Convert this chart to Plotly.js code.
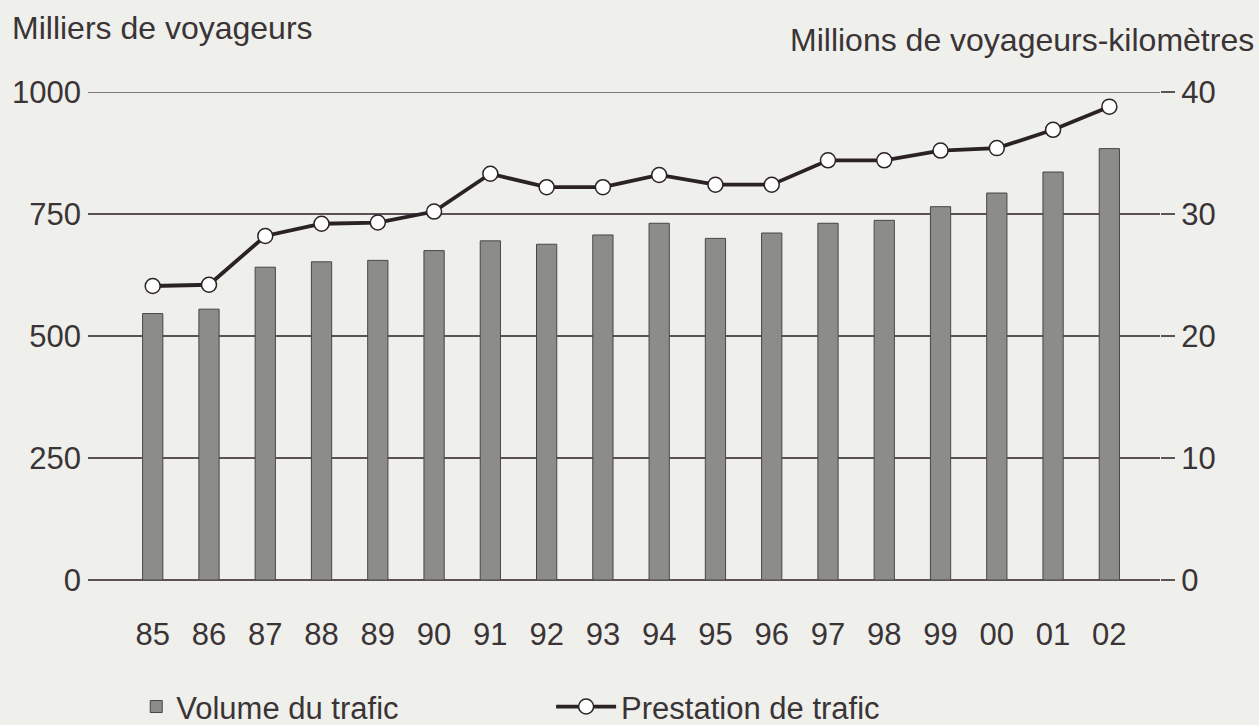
<!DOCTYPE html>
<html>
<head>
<meta charset="utf-8">
<script src="https://cdn.plot.ly/plotly-3.0.1.min.js"></script>
<style>
  html, body { margin: 0; padding: 0; background: #efefec; }
  #chart { width: 1259px; height: 725px; }
</style>
</head>
<body>
<div id="chart"></div>
<script>
// years (two-digit labels as in the source)
const years = ["85", "86", "87", "88", "89", "90", "91", "92", "93", "94",
               "95", "96", "97", "98", "99", "00", "01", "02"];

// Volume du trafic, milliers de voyageurs (left axis)
const volume = [546, 555, 641, 652, 655, 675, 695, 688, 707, 731,
                700, 711, 731, 737, 765, 793, 836, 884];

// Prestation de trafic, millions de voyageurs-km (right axis)
const prestation = [24.1, 24.2, 28.2, 29.2, 29.3, 30.2, 33.3, 32.2, 32.2, 33.2,
                    32.4, 32.4, 34.4, 34.4, 35.2, 35.4, 36.9, 38.8];

const leftTicks = [0, 250, 500, 750, 1000];
const rightTicks = [0, 10, 20, 30, 40];

const ink = "#3a3436";
const rule = "#5a5257";
const fontFam = "Liberation Sans, Arial, Helvetica, sans-serif";
const fs = 31;

const bars = {
    x: years,
    y: volume,
    type: "bar",
    name: "Volume du trafic",
    marker: { color: "#8c8c8a", line: { color: "#4a4646", width: 1 } },
    yaxis: "y",
    legend: "legend"
};

const line = {
    x: years,
    y: prestation,
    type: "scatter",
    mode: "lines+markers",
    name: "Prestation de trafic",
    line: { color: "#2a2224", width: 3.8 },
    marker: { symbol: "circle", size: 15, color: "#ffffff", line: { color: "#2a2224", width: 1.5 } },
    yaxis: "y2",
    legend: "legend2"
};

const layout = {
    width: 1259,
    height: 725,
    margin: { l: 88, r: 99, t: 92, b: 145, autoexpand: false },
    paper_bgcolor: "#efefec",
    plot_bgcolor: "#efefec",
    font: { family: fontFam, size: fs, color: ink },
    bargap: 0.64,
    showlegend: true,
    legend: {
        orientation: "h",
        x: 0.045, xanchor: "left",
        y: -0.26, yanchor: "middle",
        font: { size: fs, color: ink },
        bgcolor: "rgba(0,0,0,0)"
    },
    legend2: {
        orientation: "h",
        x: 0.432, xanchor: "left",
        y: -0.26, yanchor: "middle",
        itemwidth: 60,
        font: { size: fs, color: ink },
        bgcolor: "rgba(0,0,0,0)"
    },
    xaxis: {
        type: "category",
        range: [-1.15, 17.9],
        showgrid: false,
        zeroline: false,
        showline: false,
        ticks: "",
        ticklabelstandoff: 33,
        tickfont: { size: fs, color: ink }
    },
    yaxis: {
        range: [0, 1000],
        tickvals: leftTicks,
        showgrid: true,
        gridcolor: rule,
        gridwidth: 1.4,
        zeroline: true,
        zerolinecolor: rule,
        zerolinewidth: 1.4,
        showline: false,
        ticks: "",
        ticklabelstandoff: 6,
        tickfont: { size: fs, color: ink }
    },
    yaxis2: {
        range: [0, 40],
        tickvals: rightTicks,
        overlaying: "y",
        side: "right",
        showgrid: false,
        zeroline: false,
        showline: false,
        ticks: "outside",
        ticklen: 14,
        tickwidth: 1.4,
        tickcolor: rule,
        ticklabelstandoff: 0,
        tickfont: { size: fs, color: ink }
    },
    shapes: [
        // top rule at 1000 / 40 (not drawn by the grid at the range edge)
        { type: "line", xref: "paper", yref: "y", x0: 0, x1: 1, y0: 1000, y1: 1000,
          line: { color: rule, width: 1.4 }, layer: "below" }
    ],
    annotations: [
        {
            text: "Milliers de voyageurs",
            xref: "paper", yref: "paper",
            x: -0.073, y: 1.131, xanchor: "left", yanchor: "middle",
            showarrow: false,
            font: { size: 32, color: ink }
        },
        {
            text: "Millions de voyageurs-kilomètres",
            xref: "paper", yref: "paper",
            x: 1.09, y: 1.107, xanchor: "right", yanchor: "middle",
            showarrow: false,
            font: { size: 32, color: ink }
        }
    ]
};

Plotly.newPlot("chart", [bars, line], layout, { displayModeBar: false, staticPlot: true });
</script>
</body>
</html>
